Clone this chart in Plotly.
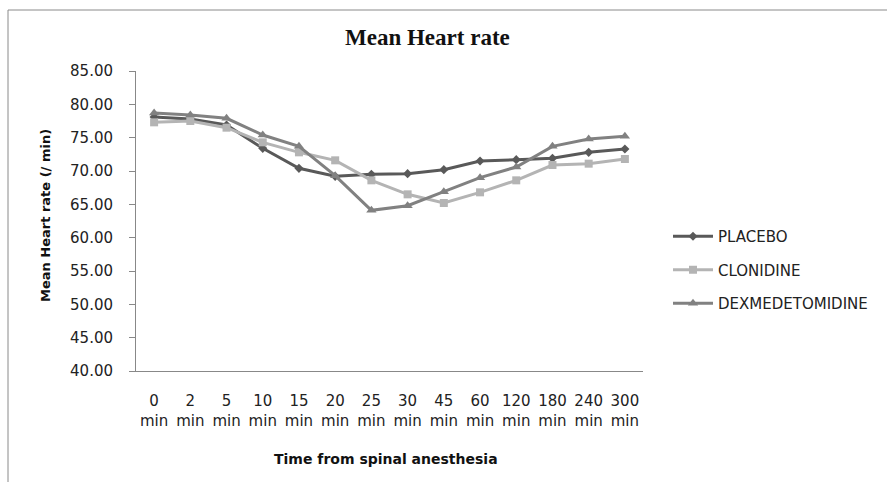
import plotly.graph_objects as go

categories = ["0<br>min", "2<br>min", "5<br>min", "10<br>min", "15<br>min", "20<br>min", "25<br>min",
              "30<br>min", "45<br>min", "60<br>min", "120<br>min", "180<br>min", "240<br>min", "300<br>min"]
placebo = [78.1, 77.8, 76.9, 73.4, 70.4, 69.2, 69.5, 69.6, 70.2, 71.5, 71.7, 71.9, 72.8, 73.3]
clonidine = [77.3, 77.5, 76.5, 74.3, 72.8, 71.6, 68.6, 66.5, 65.2, 66.8, 68.6, 70.9, 71.1, 71.8]
dexmed = [78.7, 78.4, 77.9, 75.4, 73.7, 69.3, 64.1, 64.8, 66.9, 69.0, 70.6, 73.7, 74.8, 75.2]
y_ticks = [40, 45, 50, 55, 60, 65, 70, 75, 80, 85]

font = "DejaVu Sans"
L, T, PW, PH = 136, 71, 507, 300
W, H = 887, 482


def px(x):
    return (x - L) / PW


def py(y):
    return (T + PH - y) / PH


fig = go.Figure()
fig.add_trace(go.Scatter(x=categories, y=placebo, name="PLACEBO", mode="lines+markers",
                         legendgroup="a",
                         line=dict(color="#595959", width=3),
                         marker=dict(symbol="diamond", size=7, color="#595959")))
fig.add_trace(go.Scatter(x=categories, y=clonidine, name="CLONIDINE", mode="lines+markers",
                         legendgroup="b",
                         line=dict(color="#b4b4b4", width=3),
                         marker=dict(symbol="square", size=8, color="#b4b4b4")))
fig.add_trace(go.Scatter(x=categories, y=dexmed, name="DEXMEDETOMIDINE", mode="lines+markers",
                         legendgroup="c",
                         line=dict(color="#818181", width=3),
                         marker=dict(symbol="triangle-up", size=9, color="#818181")))

fig.update_layout(
    width=W, height=H,
    margin=dict(l=L, r=W - L - PW, t=T, b=H - T - PH),
    paper_bgcolor="white", plot_bgcolor="white",
    font=dict(family=font, size=14, color="#222"),
    showlegend=True,
    legend=dict(x=px(668), y=py(270), xanchor="left", yanchor="middle",
                font=dict(family=font, size=15, color="#222"), tracegroupgap=11,
                itemwidth=40, bgcolor="rgba(0,0,0,0)"),
    xaxis=dict(type="category", range=[-0.5, 13.5], showgrid=False,
               showline=True, linecolor="#888", linewidth=1, ticks="",
               ticklabelstandoff=16,
               tickfont=dict(family=font, size=15, color="#222")),
    yaxis=dict(range=[40, 85], tickvals=y_ticks, ticktext=[f"{v:.2f}" for v in y_ticks],
               showgrid=False, showline=True, linecolor="#888", linewidth=1,
               ticks="outside", ticklen=6, tickcolor="#888", ticklabelstandoff=13,
               tickfont=dict(family=font, size=15, color="#222")),
    shapes=[dict(type="rect", xref="paper", yref="paper",
                 x0=px(8), x1=px(905), y0=py(500), y1=py(10),
                 line=dict(color="#8a8a8a", width=1), layer="below")],
    annotations=[
        dict(text="<b>Mean Heart rate</b>", xref="paper", yref="paper",
             x=px(427), y=py(38), showarrow=False,
             font=dict(family="Liberation Serif", size=23, color="#111"),
             xanchor="center", yanchor="middle"),
        dict(text="<b>Mean Heart rate (/ min)</b>", xref="paper", yref="paper",
             x=px(46), y=py(216), showarrow=False, textangle=-90,
             font=dict(family=font, size=13, color="#111"),
             xanchor="center", yanchor="middle"),
        dict(text="<b>Time from spinal anesthesia</b>", xref="paper", yref="paper",
             x=px(386), y=py(459), showarrow=False,
             font=dict(family=font, size=14, color="#111"),
             xanchor="center", yanchor="middle"),
    ],
)

fig.write_html("out.html", config={"displayModeBar": False},
               post_script="document.body.style.margin='0px';")
